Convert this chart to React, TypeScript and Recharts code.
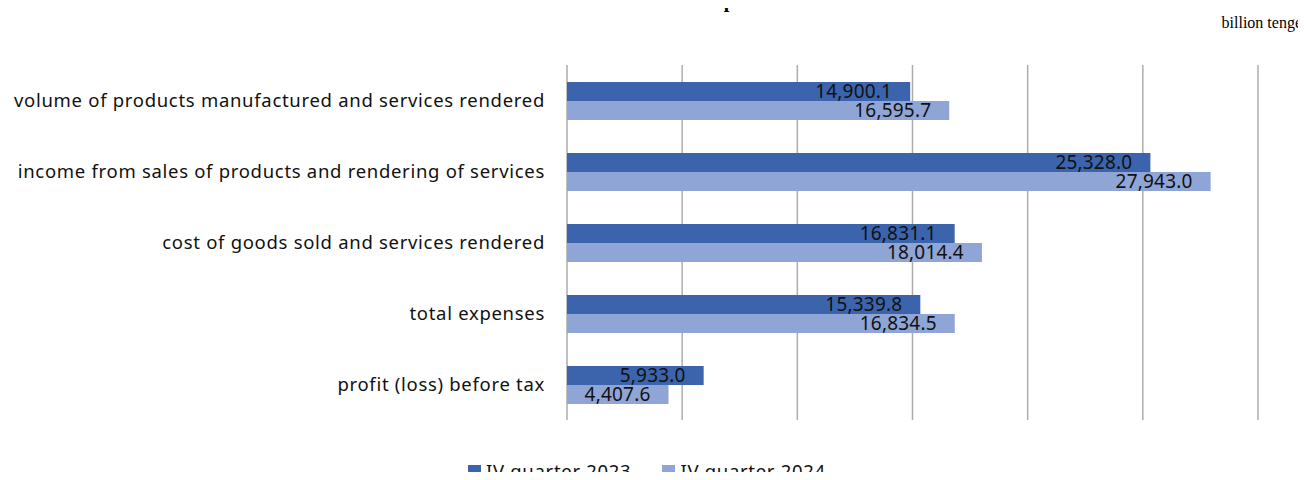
import React from 'react'
import { BarChart, Bar, XAxis, YAxis, CartesianGrid, LabelList } from 'recharts'

const categories = [
  'volume of products manufactured and services rendered',
  'income from sales of products and rendering of services',
  'cost of goods sold and services rendered',
  'total expenses',
  'profit (loss) before tax',
]

const q4_2023 = [14900.1, 25328.0, 16831.1, 15339.8, 5933.0]
const q4_2024 = [16595.7, 27943.0, 18014.4, 16834.5, 4407.6]

const xTicks = [0, 5000, 10000, 15000, 20000, 25000, 30000]

const seriesNames = ['IV quarter 2023', 'IV quarter 2024']
const DARK = '#3C64AC'
const LIGHT = '#8FA5D5'
const SANS = '"Noto Sans", "Open Sans", sans-serif'
const SERIF = '"Liberation Serif", "Times New Roman", serif'

const data = categories.map((name, i) => ({ name, a: q4_2023[i], b: q4_2024[i] }))

const fmt = (v: number) =>
  v.toLocaleString('en-US', { minimumFractionDigits: 1, maximumFractionDigits: 1 })

const labelStyle = { fill: '#111', fontSize: 19, fontFamily: SANS, letterSpacing: 0.2 }

export default function App() {
  return (
    <div style={{ position: 'relative', width: 1306, height: 480, margin: -8, overflow: 'hidden', background: '#fff' }}>
      <svg width={1306} height={40} style={{ position: 'absolute', left: 0, top: 0 }}>
        <text x={620} y={7} textAnchor="middle" fontFamily={SERIF} fontWeight="bold" fontSize={20} fill="#000">
          Main indicators of small enterprises
        </text>
        <text x={1302} y={28} textAnchor="end" fontFamily={SERIF} fontSize={16} fill="#000">
          billion tenge
        </text>
      </svg>

      <BarChart
        width={1306}
        height={480}
        data={data}
        layout="vertical"
        margin={{ top: 65, right: 48, bottom: 60, left: 0 }}
        barCategoryGap={17}
        barGap={0}
      >
        <CartesianGrid horizontal={false} vertical stroke="#ADADAD" strokeWidth={1.5} />
        <XAxis
          type="number"
          domain={[0, 30000]}
          ticks={xTicks}
          tick={() => <g />}
          axisLine={false}
          tickLine={false}
          height={0}
        />
        <YAxis
          type="category"
          dataKey="name"
          width={567}
          axisLine={false}
          tickLine={false}
          tickSize={0}
          tickMargin={22}
          tick={{ fill: '#111', fontSize: 18.5, fontFamily: SANS, letterSpacing: 0.7 }}
        />
        <Bar dataKey="a" fill={DARK} isAnimationActive={false}>
          <LabelList
            dataKey="a"
            position="insideRight"
            offset={18}
            formatter={(v: any) => fmt(Number(v))}
            style={labelStyle}
          />
        </Bar>
        <Bar dataKey="b" fill={LIGHT} isAnimationActive={false}>
          <LabelList
            dataKey="b"
            position="insideRight"
            offset={18}
            formatter={(v: any) => fmt(Number(v))}
            style={labelStyle}
          />
        </Bar>
      </BarChart>

      <div
        style={{
          position: 'absolute', left: 468, top: 462, display: 'flex', alignItems: 'center',
          fontFamily: SANS, fontSize: 18.5, letterSpacing: 0.7, lineHeight: '18px', color: '#111', whiteSpace: 'nowrap',
        }}
      >
        {seriesNames.map((s, i) => (
          <div key={s} style={{ display: 'flex', alignItems: 'center', marginRight: 31 }}>
            <span style={{ width: 13, height: 13, background: i === 0 ? DARK : LIGHT, marginRight: 5, display: 'inline-block' }} />
            <span>{s}</span>
          </div>
        ))}
      </div>
    </div>
  )
}
